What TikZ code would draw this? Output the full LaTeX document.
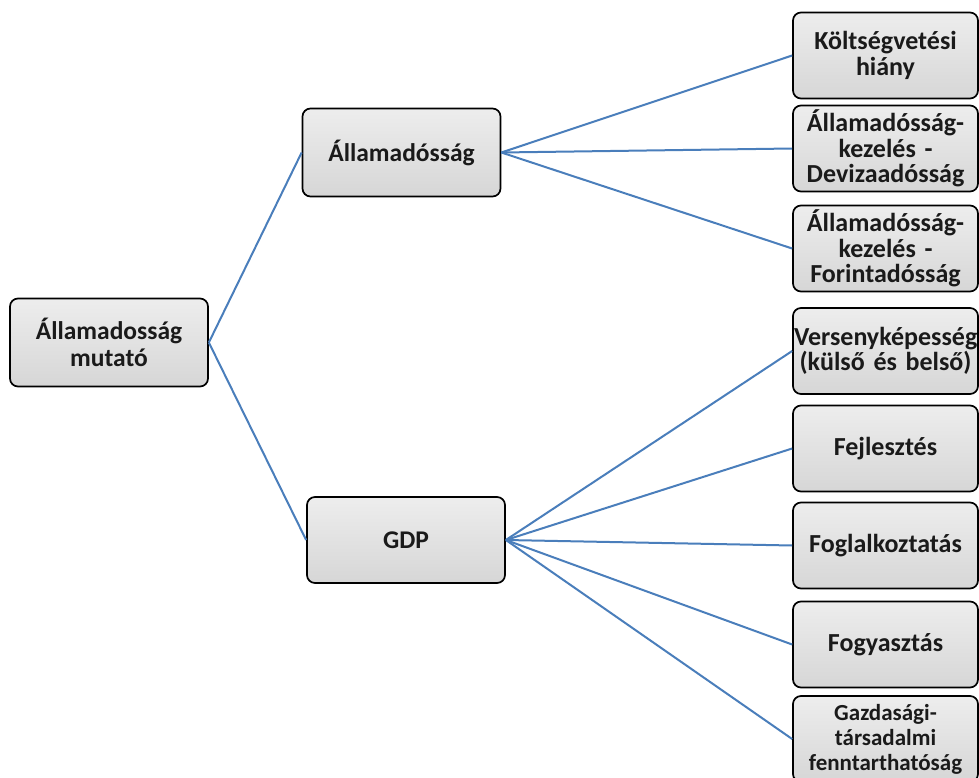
\documentclass[tikz,border=0pt]{standalone}
\usepackage{fontspec}
\setmainfont{Carlito}
\usetikzlibrary{positioning}
\definecolor{linkblue}{HTML}{4A7EBB}
\definecolor{boxtext}{HTML}{1A1A1A}

\begin{document}
\begin{tikzpicture}[x=1pt, y=-1pt,
  box/.style={rectangle, draw=black, line width=1.7pt, rounded corners=8pt, top color=black!7, bottom color=black!16, inner sep=1pt, align=center, text=boxtext},
  leftbox/.style={box, minimum width=198pt, minimum height=88pt, font=\fontsize{25.5}{27.5}\selectfont\bfseries},
  rightbox/.style={box, text width=183pt, minimum height=86pt, font=\fontsize{26}{25.5}\selectfont\bfseries},
  link/.style={linkblue, line width=2pt}
]
  \useasboundingbox (0,0) rectangle (979,778);

  \node[leftbox] (root) at (109,342.5) {Államadosság\\mutató};
  \node[leftbox] (allam) at (401.5,152.5) {Államadósság};
  \node[leftbox, minimum height=86pt] (gdp) at (406,540) {GDP};

  \node[rightbox] (r1) at (885.5,55.5) {Költségvetési\\hiány};
  \node[rightbox] (r2) at (885.5,148.5) {Államadósság-\\kezelés -\\Devizaadósság};
  \node[rightbox] (r3) at (885.5,248.5) {Államadósság-\\kezelés -\\Forintadósság};
  \node[rightbox] (r4) at (885.5,351) {Versenyképesség\\(külső és belső)};
  \node[rightbox] (r5) at (885.5,448.5) {Fejlesztés};
  \node[rightbox] (r6) at (885.5,545.5) {Foglalkoztatás};
  \node[rightbox] (r7) at (885.5,644.5) {Fogyasztás};
  \node[rightbox, font=\fontsize{23}{25}\selectfont\bfseries] (r8) at (885.5,739) {Gazdasági-\\társadalmi\\fenntarthatóság};

  \draw[link] (root.east) -- (allam.west);
  \draw[link] (root.east) -- (gdp.west);

  \draw[link] (allam.east) -- (r1.west);
  \draw[link] (allam.east) -- (r2.west);
  \draw[link] (allam.east) -- (r3.west);

  \draw[link] (gdp.east) -- (r4.west);
  \draw[link] (gdp.east) -- (r5.west);
  \draw[link] (gdp.east) -- (r6.west);
  \draw[link] (gdp.east) -- (r7.west);
  \draw[link] (gdp.east) -- (r8.west);
\end{tikzpicture}
\end{document}
